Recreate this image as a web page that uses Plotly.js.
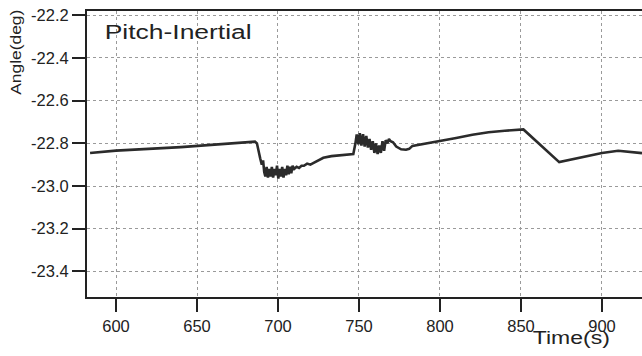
<!DOCTYPE html>
<html>
<head>
<meta charset="utf-8">
<script src="https://cdn.plot.ly/plotly-3.0.1.min.js"></script>
<style>html,body{margin:0;padding:0;background:#fff;}#chart{width:642px;height:356px;}</style>
</head>
<body>
<div id="chart"></div>
<script>
const timeS = [584,600,640,685.8,687,688,689,690,690.8,691.5,692.2,693,693.8,694.6,695.4,696.2,697,697.8,698.6,699.4,700.2,701,701.8,702.6,703.4,704.2,705,705.8,706.6,707.4,708.2,709,710,711.5,713,714.5,716,718,720,722,726,728,733,740,746.5,747.8,748.6,749.6,750.5,751.5,752.5,753.5,754.5,755.5,756.5,757.5,758.5,759.5,760.5,761.5,762.5,763.5,764.5,765.5,766.5,767.5,768.5,769.5,771,773,776,779,781,783,790,800,810,820,830,840,851.5,873.6,885,900,910,918,924.7];
const pitchDeg = [-22.845,-22.834,-22.818,-22.792,-22.8,-22.84,-22.87,-22.9,-22.88,-22.935,-22.955,-22.91,-22.96,-22.92,-22.955,-22.91,-22.96,-22.92,-22.95,-22.905,-22.965,-22.92,-22.955,-22.91,-22.96,-22.92,-22.95,-22.905,-22.945,-22.91,-22.94,-22.905,-22.92,-22.91,-22.915,-22.905,-22.905,-22.895,-22.9,-22.892,-22.874,-22.868,-22.86,-22.855,-22.85,-22.8,-22.758,-22.805,-22.752,-22.81,-22.757,-22.815,-22.765,-22.82,-22.78,-22.83,-22.79,-22.845,-22.8,-22.85,-22.81,-22.845,-22.79,-22.835,-22.785,-22.8,-22.78,-22.79,-22.795,-22.815,-22.828,-22.83,-22.826,-22.812,-22.803,-22.788,-22.775,-22.76,-22.748,-22.741,-22.735,-22.888,-22.87,-22.845,-22.835,-22.84,-22.846];
const xTicks = [600,650,700,750,800,850,900];
const yTicks = [-22.2,-22.4,-22.6,-22.8,-23.0,-23.2,-23.4];
const yTickText = ['-22.2','-22.4','-22.6','-22.8','-23.0','-23.2','-23.4'];

const fontFam = '"Liberation Sans", Arial, Helvetica, sans-serif';
Plotly.newPlot('chart', [{
  x: timeS, y: pitchDeg, type: 'scatter', mode: 'lines',
  line: {color: '#2b2b2b', width: 2.6}, hoverinfo: 'skip'
}], {
  width: 642, height: 356,
  margin: {l: 87, r: 0, t: 11, b: 59},
  paper_bgcolor: '#fff', plot_bgcolor: '#fff',
  showlegend: false,
  font: {family: fontFam, color: '#222', size: 16},
  xaxis: {
    range: [582.1, 924.7], tickvals: xTicks, ticks: 'outside', ticklen: 13, tickwidth: 2, tickcolor: '#222',
    showline: true, linecolor: '#222', linewidth: 2, mirror: true,
    showgrid: true, gridcolor: '#9a9a9a', griddash: 'dot', gridwidth: 1, zeroline: false,
    tickfont: {family: fontFam, size: 16.5, color: '#222'}
  },
  yaxis: {
    range: [-23.52, -22.18], tickvals: yTicks, ticktext: yTickText, ticks: 'outside', ticklen: 13, tickwidth: 2, tickcolor: '#222',
    showline: true, linecolor: '#222', linewidth: 2,
    showgrid: true, gridcolor: '#9a9a9a', griddash: 'dot', gridwidth: 1, zeroline: false,
    tickfont: {family: fontFam, size: 16.5, color: '#222'}
  },
  annotations: [
    {text: 'Pitch-Inertial', xref: 'paper', yref: 'paper', x: (177.5-87)/555, y: 1, yshift: -21, xanchor: 'center', yanchor: 'middle', showarrow: false,
     font: {family: fontFam, size: 19.5, color: '#222'}},
    {text: 'Time(s)', xref: 'paper', yref: 'paper', x: (571.5-87)/555, y: 0, yshift: -41, xanchor: 'center', yanchor: 'middle', showarrow: false,
     font: {family: fontFam, size: 17.5, color: '#222'}},
    {text: 'Angle(deg)', xref: 'paper', yref: 'paper', x: 0, xshift: -72, y: 1 - (52.5-11)/286, xanchor: 'center', yanchor: 'middle', textangle: -90, showarrow: false,
     font: {family: fontFam, size: 14, color: '#222'}}
  ]
}, {displayModeBar: false, staticPlot: true}).then(function(gd){
  const stretch = {'Pitch-Inertial': 147, 'Time(s)': 77, 'Angle(deg)': 85};
  gd.querySelectorAll('text.annotation-text').forEach(function(t){
    const L = stretch[t.textContent];
    if (L) { t.setAttribute('textLength', L); t.setAttribute('lengthAdjust', 'spacingAndGlyphs'); }
  });
});
</script>
</body>
</html>
